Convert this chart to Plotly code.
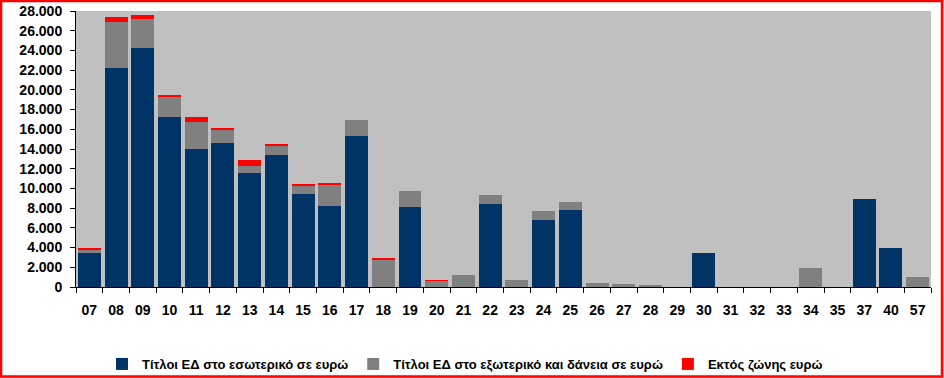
import plotly.graph_objects as go

categories = ["07", "08", "09", "10", "11", "12", "13", "14", "15", "16", "17", "18", "19", "20",
              "21", "22", "23", "24", "25", "26", "27", "28", "29", "30", "31", "32", "33", "34",
              "35", "37", "40", "57"]
domestic = [3400, 22200, 24250, 17250, 14000, 14600, 11570, 13400, 9450, 8220, 15320, 0, 8120, 0,
            0, 8420, 0, 6800, 7810, 0, 0, 0, 0, 3500, 0, 0, 0, 0,
            0, 8950, 4000, 0]
foreign_loans = [420, 4680, 2910, 2030, 2710, 1420, 710, 950, 880, 2200, 1620, 2840, 1620, 610,
                 1220, 910, 710, 910, 810, 400, 300, 200, 0, 0, 0, 0, 0, 1950,
                 0, 0, 0, 1030]
non_euro = [100, 540, 470, 200, 570, 100, 610, 130, 100, 60, 0, 100, 0, 100,
            0, 0, 0, 0, 0, 0, 0, 0, 0, 0, 0, 0, 0, 0,
            0, 0, 0, 0]
series_names = ["Τίτλοι ΕΔ στο εσωτερικό σε ευρώ",
                "Τίτλοι ΕΔ στο εξωτερικό και δάνεια σε ευρώ",
                "Εκτός ζώνης ευρώ"]
y_ticks = list(range(0, 28001, 2000))

colors = ["#003366", "#808080", "#FF0000"]

fig = go.Figure()
for name, vals, col in zip(series_names, [domestic, foreign_loans, non_euro], colors):
    fig.add_trace(go.Bar(x=categories, y=vals, name=name, marker_color=col,
                         marker_line_width=0))

W, H = 944, 378
ml, mr, mt, mb = 76, 13, 11, 91
pw, ph = W - ml - mr, H - mt - mb

def px_x(p):
    return (p - ml) / pw

def px_y(p):
    return (H - mb - p) / ph

font_fam = "Liberation Sans, Arial, sans-serif"

fig.update_layout(
    width=W, height=H,
    margin=dict(l=ml, r=mr, t=mt, b=mb, autoexpand=False),
    barmode="stack",
    bargap=0.14,
    plot_bgcolor="#C0C0C0",
    paper_bgcolor="white",
    separators=",.",
    showlegend=True,
    legend=dict(orientation="h", x=px_x(465), xanchor="center", y=px_y(364), yanchor="middle",
                traceorder="normal", bgcolor="rgba(0,0,0,0)",
                font=dict(family=font_fam, size=13, color="black", weight="bold"),
                itemwidth=30, tracegroupgap=0),
    xaxis=dict(type="category", showline=True, linecolor="black", linewidth=1,
               ticks="outside", ticklen=5, tickcolor="black", tickson="boundaries",
               showgrid=False, ticklabelstandoff=10, tickangle=0, automargin=False,
               tickfont=dict(family=font_fam, size=14, color="black", weight="bold")),
    yaxis=dict(range=[0, 28000], tickvals=y_ticks, tickformat=",d",
               showline=True, linecolor="black", linewidth=1, automargin=False,
               ticks="outside", ticklen=5, tickcolor="black", showgrid=False, zeroline=False,
               ticklabelstandoff=5,
               tickfont=dict(family=font_fam, size=14, color="black", weight="bold")),
    shapes=[dict(type="rect", xref="paper", yref="paper",
                 x0=px_x(1), x1=px_x(942), y0=px_y(376.5), y1=px_y(1),
                 line=dict(color="#FF0000", width=2.5), layer="above")],
)

fig.write_html("out.html", config={"displayModeBar": False},
               post_script="document.body.style.margin='0';")
